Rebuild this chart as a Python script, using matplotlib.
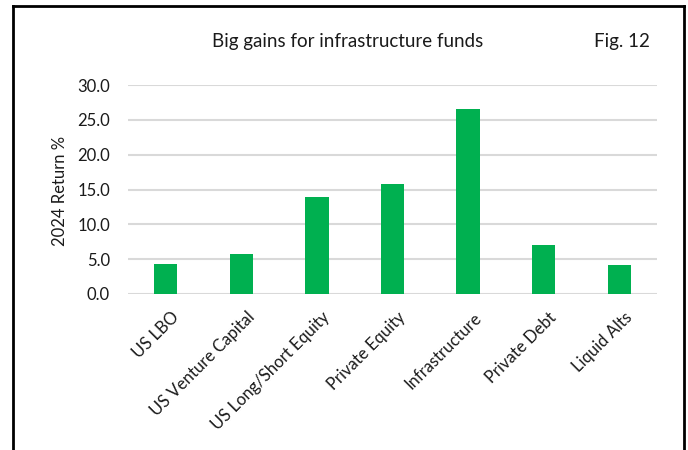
import matplotlib
matplotlib.use("Agg")
import matplotlib.pyplot as plt
from matplotlib.lines import Line2D
import matplotlib.transforms as mtransforms

categories = ["US LBO", "US Venture Capital", "US Long/Short Equity", "Private Equity",
              "Infrastructure", "Private Debt", "Liquid Alts"]
returns = [4.3, 5.8, 13.9, 15.8, 26.6, 7.1, 4.2]
yticks = [0, 5, 10, 15, 20, 25, 30]

plt.rcParams['font.family'] = ['Lato', 'DejaVu Sans']
TXT = "#1a1a1a"

fig = plt.figure(figsize=(6.88, 4.5), dpi=100)
ax = fig.add_axes([128/688, 1-294/450, (657-128)/688, (294-85)/450])

x = list(range(len(categories)))
ax.bar(x, returns, width=0.31, color="#00b050", zorder=3)
ax.set_xlim(-0.5, len(categories)-0.5)
ax.set_ylim(0, 30)
ax.set_yticks(yticks)
ax.set_yticklabels([f"{v:.1f}" for v in yticks], fontsize=12, color=TXT)
ax.grid(axis='y', color="#d9d9d9", linewidth=1.5, zorder=0)
ax.tick_params(axis='both', length=0)
ax.tick_params(axis='y', pad=13)
for s in ax.spines.values():
    s.set_visible(False)
ax.set_xticks(x)
ax.set_xticklabels(categories, rotation=45, ha='right', va='top', rotation_mode='anchor',
                   fontsize=12, color=TXT)
ax.tick_params(axis='x', pad=11)
offset = mtransforms.ScaledTranslation(3.5/72, 0, fig.dpi_scale_trans)
for lbl in ax.get_xticklabels():
    lbl.set_transform(lbl.get_transform() + offset)

fig.text(60/688, 1-191/450, "2024 Return %", rotation=90, ha='center', va='center',
         fontsize=12, color=TXT)

fig.text(348/688, 1-42/450, "Big gains for infrastructure funds", ha='center', va='center',
         fontsize=13.5, color=TXT)
fig.text(650/688, 1-42/450, "Fig. 12", ha='right', va='center', fontsize=13.5, color=TXT)

# border (left, top, right)
lw = 2
fig.add_artist(Line2D([13/688, 13/688], [0, 1-6/450], transform=fig.transFigure, color='black', lw=lw))
fig.add_artist(Line2D([13/688, 684/688], [1-6/450, 1-6/450], transform=fig.transFigure, color='black', lw=lw))
fig.add_artist(Line2D([684/688, 684/688], [0, 1-6/450], transform=fig.transFigure, color='black', lw=lw))

fig.savefig("out.png", dpi=100)
